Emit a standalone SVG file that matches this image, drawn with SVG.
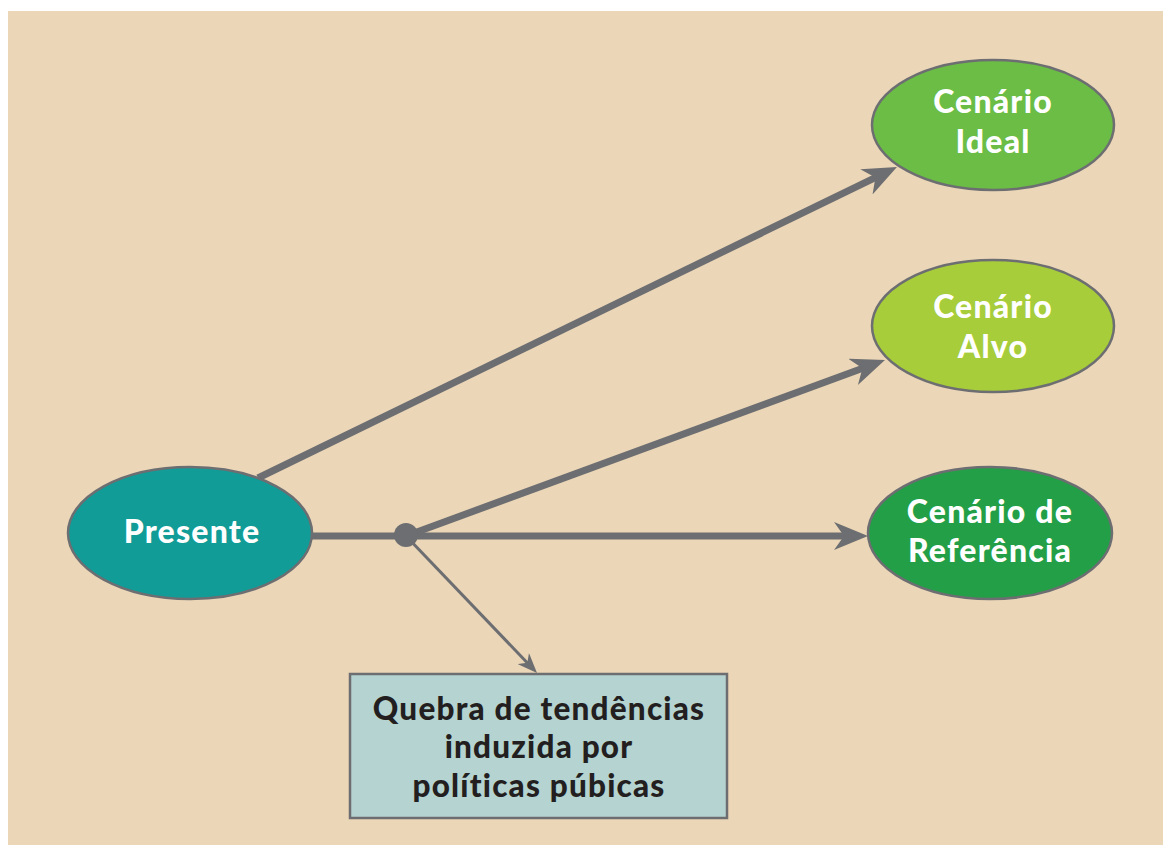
<svg xmlns="http://www.w3.org/2000/svg" width="1163" height="845" viewBox="0 0 1163 845">
<defs>
<style>
.bg{fill:#EBD6B7}
.node{stroke:#6D6E71;stroke-width:2.5}
.lbl{font-family:Lato,"Open Sans","Liberation Sans",sans-serif;font-weight:900;font-size:32px;fill:#FFFFFF;text-anchor:middle;letter-spacing:1.2px}
.dark{fill:#231F20;font-size:31.5px}
.thick{stroke:#6D6E71;stroke-width:7;fill:none}
.thin{stroke:#6D6E71;stroke-width:3;fill:none}
</style>
<marker id="big" markerUnits="userSpaceOnUse" viewBox="0 0 34 28" markerWidth="34" markerHeight="28" refX="19" refY="14" orient="auto">
<path d="M0,0 L34,14 L0,28 L10,14 z" fill="#6D6E71"/>
</marker>
<marker id="small" markerUnits="userSpaceOnUse" viewBox="0 0 20 16" markerWidth="20" markerHeight="16" refX="12" refY="8" orient="auto">
<path d="M0,0 L20,8 L0,16 L6,8 z" fill="#6D6E71"/>
</marker>
</defs>
<rect class="bg" x="8" y="11" width="1160" height="840"/>
<g id="connectors">
<line class="thick" x1="258" y1="478" x2="883.5" y2="173.6" marker-end="url(#big)"/>
<line class="thick" x1="406" y1="536" x2="870.9" y2="365.2" marker-end="url(#big)"/>
<line class="thick" x1="308" y1="536" x2="853" y2="536" marker-end="url(#big)"/>
<line class="thin" x1="406" y1="536" x2="531.5" y2="667.2" marker-end="url(#small)"/>
<circle cx="406" cy="535" r="12" fill="#6D6E71"/>
</g>
<g id="presente">
<ellipse class="node" cx="190" cy="533" rx="122" ry="66" fill="#119C97"/>
<text class="lbl" x="192" y="543">Presente</text>
</g>
<g id="cenario-ideal">
<ellipse class="node" cx="993" cy="125" rx="121" ry="65" fill="#6BBD45"/>
<text class="lbl" x="993" y="113">Cenário</text>
<text class="lbl" x="993" y="153">Ideal</text>
</g>
<g id="cenario-alvo">
<ellipse class="node" cx="993" cy="326" rx="121" ry="66" fill="#A7CD3A"/>
<text class="lbl" x="993" y="318">Cenário</text>
<text class="lbl" x="993" y="358">Alvo</text>
</g>
<g id="cenario-referencia">
<ellipse class="node" cx="990" cy="533" rx="122" ry="66" fill="#23A047"/>
<text class="lbl" x="990" y="523">Cenário de</text>
<text class="lbl" x="990" y="562">Referência</text>
</g>
<g id="quebra">
<rect x="350" y="674" width="377" height="144" fill="#B5D3D1" stroke="#6D6E71" stroke-width="2.5"/>
<text class="lbl dark" x="539" y="720">Quebra de tendências</text>
<text class="lbl dark" x="539" y="758">induzida por</text>
<text class="lbl dark" x="539" y="797">políticas púbicas</text>
</g>
</svg>
